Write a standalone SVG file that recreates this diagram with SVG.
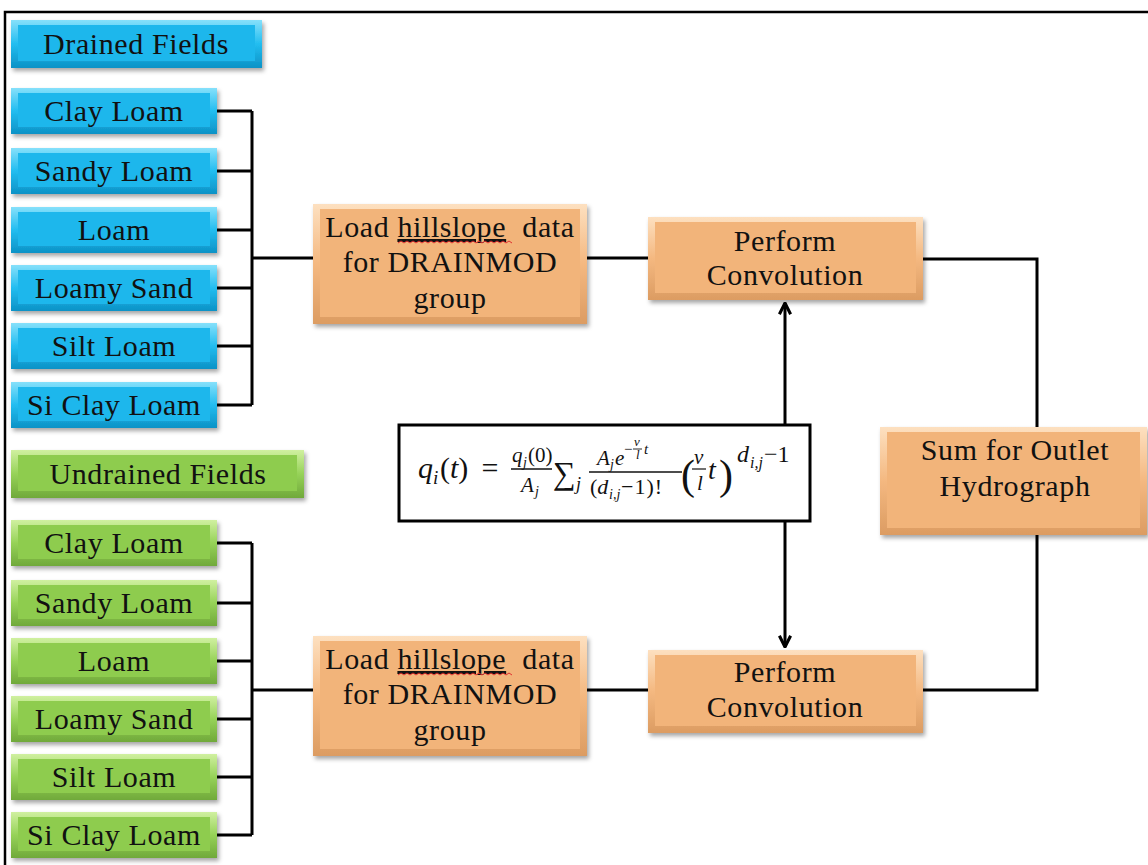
<svg xmlns="http://www.w3.org/2000/svg" width="1148" height="865" viewBox="0 0 1148 865">
  <defs>
    <linearGradient id="gBlue" x1="0" y1="0" x2="0" y2="1">
      <stop offset="0" stop-color="#86e0fb"/>
      <stop offset="0.5" stop-color="#22bdf0"/>
      <stop offset="1" stop-color="#0c92c6"/>
    </linearGradient>
    <linearGradient id="gGreen" x1="0" y1="0" x2="0" y2="1">
      <stop offset="0" stop-color="#d0f0a0"/>
      <stop offset="0.5" stop-color="#96d258"/>
      <stop offset="1" stop-color="#70a93a"/>
    </linearGradient>
    <linearGradient id="gOrange" x1="0" y1="0" x2="0" y2="1">
      <stop offset="0" stop-color="#fde0c0"/>
      <stop offset="0.5" stop-color="#f4b880"/>
      <stop offset="1" stop-color="#dc9c62"/>
    </linearGradient>
    <filter id="shadow" x="-10%" y="-20%" width="125%" height="150%">
      <feDropShadow dx="2" dy="3" stdDeviation="2" flood-color="#000" flood-opacity="0.35"/>
    </filter>
    <marker id="chev" viewBox="0 0 10 10" refX="9" refY="5" markerWidth="14" markerHeight="16" markerUnits="userSpaceOnUse" orient="auto">
      <path d="M1,1 L9,5 L1,9" fill="none" stroke="#000" stroke-width="2.2"/>
    </marker>
    <style>
      .blue .out { fill: url(#gBlue); filter: url(#shadow); }
      .blue .in { fill: #1db7ec; }
      .green .out { fill: url(#gGreen); filter: url(#shadow); }
      .green .in { fill: #8ecc4e; }
      .orange .out { fill: url(#gOrange); filter: url(#shadow); }
      .orange .in { fill: #f2b47a; }
      .lbl { font-family: "Liberation Serif", "Times New Roman", serif; font-size: 30px; fill: #111; text-anchor: middle; letter-spacing: 0.6px; }
      .big { font-size: 30px; }
      .conn { fill: none; stroke: #000; stroke-width: 3; }
      .m { font-family: "Liberation Serif", "DejaVu Serif", serif; fill: #111; font-style: italic; }
      .r { font-style: normal; }
    </style>
  </defs>

  <rect width="1148" height="865" fill="#fff"/>
  <!-- outer frame -->
  <rect x="5" y="12" width="1170" height="880" fill="none" stroke="#000" stroke-width="2.5"/>

  <!-- Drained fields column -->
  <g id="drained-fields" class="blue">
    <rect class="out" x="11" y="20" width="251" height="48"/>
    <rect class="in" x="18" y="25" width="237" height="36"/>
    <text class="lbl" x="136" y="54">Drained Fields</text>
  </g>
  <g id="d-clay-loam" class="blue">
    <rect class="out" x="11" y="88" width="206" height="46"/>
    <rect class="in" x="18" y="93" width="192" height="34"/>
    <text class="lbl" x="114" y="121">Clay Loam</text>
  </g>
  <g id="d-sandy-loam" class="blue">
    <rect class="out" x="11" y="148" width="206" height="46"/>
    <rect class="in" x="18" y="153" width="192" height="34"/>
    <text class="lbl" x="114" y="181">Sandy Loam</text>
  </g>
  <g id="d-loam" class="blue">
    <rect class="out" x="11" y="207" width="206" height="46"/>
    <rect class="in" x="18" y="212" width="192" height="34"/>
    <text class="lbl" x="114" y="240">Loam</text>
  </g>
  <g id="d-loamy-sand" class="blue">
    <rect class="out" x="11" y="265" width="206" height="46"/>
    <rect class="in" x="18" y="270" width="192" height="34"/>
    <text class="lbl" x="114" y="298">Loamy Sand</text>
  </g>
  <g id="d-silt-loam" class="blue">
    <rect class="out" x="11" y="323" width="206" height="46"/>
    <rect class="in" x="18" y="328" width="192" height="34"/>
    <text class="lbl" x="114" y="356">Silt Loam</text>
  </g>
  <g id="d-si-clay-loam" class="blue">
    <rect class="out" x="11" y="382" width="206" height="46"/>
    <rect class="in" x="18" y="387" width="192" height="34"/>
    <text class="lbl" x="114" y="415">Si Clay Loam</text>
  </g>

  <!-- Undrained fields column -->
  <g id="undrained-fields" class="green">
    <rect class="out" x="11" y="450" width="293" height="48"/>
    <rect class="in" x="18" y="455" width="279" height="36"/>
    <text class="lbl" x="158" y="484">Undrained Fields</text>
  </g>
  <g id="u-clay-loam" class="green">
    <rect class="out" x="11" y="520" width="206" height="46"/>
    <rect class="in" x="18" y="525" width="192" height="34"/>
    <text class="lbl" x="114" y="553">Clay Loam</text>
  </g>
  <g id="u-sandy-loam" class="green">
    <rect class="out" x="11" y="580" width="206" height="46"/>
    <rect class="in" x="18" y="585" width="192" height="34"/>
    <text class="lbl" x="114" y="613">Sandy Loam</text>
  </g>
  <g id="u-loam" class="green">
    <rect class="out" x="11" y="638" width="206" height="46"/>
    <rect class="in" x="18" y="643" width="192" height="34"/>
    <text class="lbl" x="114" y="671">Loam</text>
  </g>
  <g id="u-loamy-sand" class="green">
    <rect class="out" x="11" y="696" width="206" height="46"/>
    <rect class="in" x="18" y="701" width="192" height="34"/>
    <text class="lbl" x="114" y="729">Loamy Sand</text>
  </g>
  <g id="u-silt-loam" class="green">
    <rect class="out" x="11" y="754" width="206" height="46"/>
    <rect class="in" x="18" y="759" width="192" height="34"/>
    <text class="lbl" x="114" y="787">Silt Loam</text>
  </g>
  <g id="u-si-clay-loam" class="green">
    <rect class="out" x="11" y="812" width="206" height="46"/>
    <rect class="in" x="18" y="817" width="192" height="34"/>
    <text class="lbl" x="114" y="845">Si Clay Loam</text>
  </g>

  <!-- Processing steps -->
  <g id="load-drained" class="orange">
    <rect class="out" x="313" y="204" width="274" height="120"/>
    <rect class="in" x="320" y="209" width="260" height="108"/>
    <text class="lbl big" x="450" y="237" style="white-space:pre">Load <tspan text-decoration="underline">hillslope</tspan>  data</text>
    <path d="M398,243 l3,-2 3,2 3,-2 3,2 3,-2 3,2 3,-2 3,2 3,-2 3,2 3,-2 3,2 3,-2 3,2 3,-2 3,2 3,-2 3,2 3,-2 3,2 3,-2 3,2 3,-2 3,2 3,-2 3,2 3,-2 3,2 3,-2 3,2 3,-2 3,2 3,-2 3,2 3,-2 3,2 3,-2 3,2" fill="none" stroke="#e03030" stroke-width="1"/>
    <text class="lbl big" x="450" y="272">for DRAINMOD</text>
    <text class="lbl big" x="450" y="308">group</text>
  </g>
  <g id="load-undrained" class="orange">
    <rect class="out" x="313" y="636" width="274" height="120"/>
    <rect class="in" x="320" y="641" width="260" height="108"/>
    <text class="lbl big" x="450" y="669" style="white-space:pre">Load <tspan text-decoration="underline">hillslope</tspan>  data</text>
    <path d="M398,675 l3,-2 3,2 3,-2 3,2 3,-2 3,2 3,-2 3,2 3,-2 3,2 3,-2 3,2 3,-2 3,2 3,-2 3,2 3,-2 3,2 3,-2 3,2 3,-2 3,2 3,-2 3,2 3,-2 3,2 3,-2 3,2 3,-2 3,2 3,-2 3,2 3,-2 3,2 3,-2 3,2 3,-2 3,2" fill="none" stroke="#e03030" stroke-width="1"/>
    <text class="lbl big" x="450" y="704">for DRAINMOD</text>
    <text class="lbl big" x="450" y="740">group</text>
  </g>
  <g id="convolve-drained" class="orange">
    <rect class="out" x="648" y="217" width="275" height="83"/>
    <rect class="in" x="655" y="222" width="261" height="71"/>
    <text class="lbl big" x="785" y="251">Perform</text>
    <text class="lbl big" x="785" y="285">Convolution</text>
  </g>
  <g id="convolve-undrained" class="orange">
    <rect class="out" x="648" y="650" width="275" height="83"/>
    <rect class="in" x="655" y="655" width="261" height="71"/>
    <text class="lbl big" x="785" y="682">Perform</text>
    <text class="lbl big" x="785" y="717">Convolution</text>
  </g>
  <g id="sum-outlet" class="orange">
    <rect class="out" x="880" y="427" width="267" height="108"/>
    <rect class="in" x="887" y="432" width="253" height="96"/>
    <text class="lbl big" x="1015" y="460">Sum for Outlet</text>
    <text class="lbl big" x="1015" y="496">Hydrograph</text>
  </g>

  <!-- Unit hydrograph equation -->
  <g id="equation">
    <rect x="399" y="425" width="411" height="96" fill="#fff" stroke="#000" stroke-width="3"/>
    <text class="m" x="418" y="478" font-size="30">q</text>
    <text class="m" x="433" y="484" font-size="19">i</text>
    <text class="m" x="440" y="478" font-size="30"><tspan class="r">(</tspan>t<tspan class="r">)</tspan></text>
    <text class="m r" x="490" y="478" font-size="30" text-anchor="middle">=</text>
    <!-- q_j(0) / A_j -->
    <text class="m" x="512" y="462" font-size="21">q</text>
    <text class="m" x="523" y="467" font-size="14">j</text>
    <text class="m" x="528" y="462" font-size="21"><tspan class="r">(0)</tspan></text>
    <line x1="511" y1="469" x2="552" y2="469" stroke="#111" stroke-width="1.3"/>
    <text class="m" x="521" y="492" font-size="21">A</text>
    <text class="m" x="535" y="496" font-size="14">j</text>
    <!-- summation -->
    <text class="m r" x="553" y="484" font-size="32">∑</text>
    <text class="m" x="576" y="490" font-size="18">j</text>
    <!-- A_j e^{-v/l t} / (d_{i,j}-1)! -->
    <text class="m" x="597" y="465" font-size="21">A</text>
    <text class="m" x="610" y="469" font-size="14">j</text>
    <text class="m" x="615" y="465" font-size="21">e</text>
    <text class="m r" x="624" y="454" font-size="15">−</text>
    <text class="m" x="634" y="446" font-size="13">v</text>
    <line x1="633" y1="449" x2="642" y2="449" stroke="#111" stroke-width="0.9"/>
    <text class="m" x="636" y="459" font-size="13">l</text>
    <text class="m" x="644" y="454" font-size="15">t</text>
    <line x1="589" y1="472" x2="682" y2="472" stroke="#111" stroke-width="1.3"/>
    <text class="m" x="590" y="494" font-size="22"><tspan class="r">(</tspan>d</text>
    <text class="m" x="609" y="499" font-size="14">i,j</text>
    <text class="m r" x="621" y="494" font-size="22" letter-spacing="1">−1)!</text>
    <!-- (v/l t)^{d_{i,j}-1} -->
    <text class="m r" x="681" y="489" font-size="42">(</text>
    <text class="m" x="694" y="464" font-size="21">v</text>
    <line x1="692" y1="469" x2="706" y2="469" stroke="#111" stroke-width="1.2"/>
    <text class="m" x="697" y="490" font-size="21">l</text>
    <text class="m" x="708" y="479" font-size="28">t</text>
    <text class="m r" x="719" y="489" font-size="42">)</text>
    <text class="m" x="737" y="462" font-size="24">d</text>
    <text class="m" x="750" y="468" font-size="16">i,j</text>
    <text class="m r" x="764" y="462" font-size="24">−1</text>
  </g>

  <!-- Connectors -->
  <g id="connectors">
    <path class="conn" d="M217,111 H252 M217,171 H252 M217,230 H252 M217,288 H252 M217,346 H252 M217,405 H252 M252,111 V405 M252,258 H313"/>
    <path class="conn" d="M217,543 H252 M217,603 H252 M217,661 H252 M217,719 H252 M217,777 H252 M217,835 H252 M252,543 V835 M252,690 H313"/>
    <path class="conn" d="M587,258 H648"/>
    <path class="conn" d="M587,690 H648"/>
    <path class="conn" d="M923,259 H1037 V427"/>
    <path class="conn" d="M1037,535 V690 H923"/>
    <path class="conn" d="M785,425 V303" marker-end="url(#chev)"/>
    <path class="conn" d="M785,521 V647" marker-end="url(#chev)"/>
  </g>
</svg>
